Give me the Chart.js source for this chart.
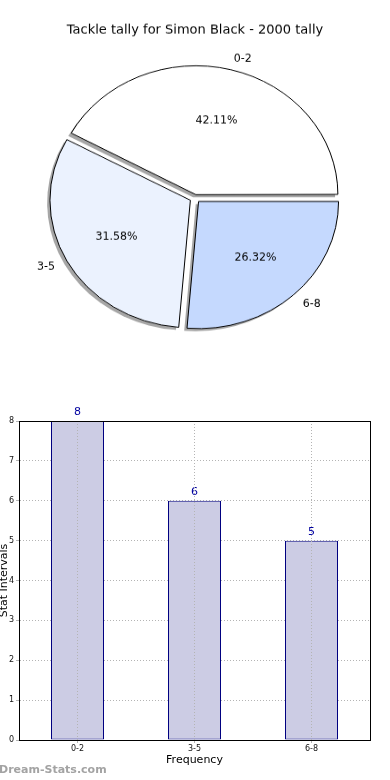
<!DOCTYPE html>
<html><head><meta charset="utf-8">
<script src="https://cdn.jsdelivr.net/npm/chart.js@4"></script>
<style>
html,body{margin:0;padding:0;background:#fff;width:390px;height:780px;overflow:hidden;}
#pieWrap{position:absolute;left:0;top:0;width:390px;height:436px;transform:scaleY(0.908);transform-origin:0 0;}
#barWrap{position:absolute;left:0;top:400px;width:390px;height:380px;}
canvas{display:block;}
</style></head><body>
<div id="pieWrap"><canvas id="pie" width="390" height="436"></canvas></div>
<div id="barWrap"><canvas id="bar" width="390" height="380"></canvas></div>
<script>
const chartTitle = 'Tackle tally for Simon Black - 2000 tally';
const categories = ['0-2', '3-5', '6-8'];
const counts = [8, 6, 5];
const pieColors = ['#ffffff', '#ebf2fe', '#c5d9fe'];
const xAxisTitle = 'Frequency';
const yAxisTitle = 'Stat Intervals';
const yMax = 8;
const watermark = 'Dream-Stats.com';

const K = 0.908; // vertical squash of the pie (matplotlib ellipse)
const FONT = "'DejaVu Sans', sans-serif";

// Pie drawn clockwise by Chart.js, matplotlib draws counter-clockwise: reverse order
const pieLabels = categories.slice().reverse();
const pieData = counts.slice().reverse();
const pieBg = pieColors.slice().reverse();
const pieOffsets = [21, 21, 15];
const total = counts.reduce((a, b) => a + b, 0);

function sceneText(ctx, txt, x, y, align, base) {
  ctx.save();
  ctx.translate(x, y);
  ctx.scale(1, 1 / K);
  ctx.textAlign = align;
  ctx.textBaseline = base;
  ctx.fillText(txt, 0, 0);
  ctx.restore();
}

function arcGeom(el) {
  const p = el.getProps(['x', 'y', 'startAngle', 'endAngle', 'outerRadius', 'circumference']);
  const mid = (p.startAngle + p.endAngle) / 2;
  const off = (el.options.offset || 0) / 4;
  const fix = 1 - Math.sin(Math.min(Math.PI, p.circumference || 0));
  return {cx: p.x + Math.cos(mid) * off, cy: p.y + Math.sin(mid) * off, r: p.outerRadius, rd: p.outerRadius + off * fix, mid, s: p.startAngle, e: p.endAngle};
}

const piePlugin = {
  id: 'piePlugin',
  beforeDatasetsDraw(chart) {
    const ctx = chart.ctx;
    const meta = chart.getDatasetMeta(0);
    ctx.save();
    ctx.fillStyle = 'rgba(77,77,77,0.5)';
    meta.data.forEach(el => {
      const g = arcGeom(el);
      ctx.beginPath();
      ctx.moveTo(g.cx - 2.8, g.cy + 2.9);
      ctx.arc(g.cx - 2.8, g.cy + 2.9, g.rd, g.s, g.e);
      ctx.closePath();
      ctx.fill();
    });
    ctx.restore();
  },
  afterDatasetsDraw(chart) {
    const ctx = chart.ctx;
    const meta = chart.getDatasetMeta(0);
    ctx.save();
    ctx.fillStyle = '#000';
    ctx.font = '11px ' + FONT;
    meta.data.forEach((el, i) => {
      const g = arcGeom(el);
      const c = Math.cos(g.mid), s = Math.sin(g.mid);
      const pct = (pieData[i] / total * 100).toFixed(2) + '%';
      sceneText(ctx, pct, g.cx + 0.6 * g.r * c, g.cy + 0.6 * g.r * s, 'center', 'middle');
      sceneText(ctx, pieLabels[i], g.cx + 1.1 * g.r * c, g.cy + 1.1 * g.r * s, c >= 0 ? 'left' : 'right', 'middle');
    });
    ctx.font = '13px ' + FONT;
    sceneText(ctx, chartTitle, 195, 30 / K, 'center', 'middle');
    ctx.restore();
  }
};

new Chart(document.getElementById('pie'), {
  type: 'pie',
  data: {
    labels: pieLabels,
    datasets: [{
      data: pieData,
      backgroundColor: pieBg,
      borderColor: '#000',
      borderWidth: 1,
      offset: pieOffsets,
      radius: 140
    }]
  },
  options: {
    responsive: false,
    animation: false,
    rotation: 90,
    radius: 140,
    layout: {padding: 0},
    plugins: {legend: {display: false}, tooltip: {enabled: false}, title: {display: false}}
  },
  plugins: [piePlugin]
});

const barPlugin = {
  id: 'barPlugin',
  afterDatasetsDraw(chart) {
    const ctx = chart.ctx;
    const meta = chart.getDatasetMeta(0);
    ctx.save();
    ctx.font = '11px ' + FONT;
    ctx.fillStyle = '#0000a0';
    ctx.textAlign = 'center';
    ctx.textBaseline = 'bottom';
    meta.data.forEach((el, i) => {
      ctx.fillText(String(counts[i]), el.x, el.y - 3);
    });
    ctx.restore();
  },
  afterDraw(chart) {
    const ctx = chart.ctx;
    const a = chart.chartArea;
    ctx.save();
    ctx.strokeStyle = '#000';
    ctx.lineWidth = 1;
    ctx.strokeRect(Math.round(a.left) + 0.5, Math.round(a.top) + 0.5, Math.round(a.right - a.left), Math.round(a.bottom - a.top));
    ctx.font = 'bold 11px ' + FONT;
    ctx.fillStyle = '#a3a3a3';
    ctx.textAlign = 'left';
    ctx.textBaseline = 'middle';
    ctx.fillText(watermark, -1, 370);
    ctx.restore();
  }
};

new Chart(document.getElementById('bar'), {
  type: 'bar',
  data: {
    labels: categories,
    datasets: [{
      data: counts,
      backgroundColor: 'rgb(204,204,228)',
      borderColor: '#000080',
      borderWidth: 1,
      borderSkipped: false,
      barPercentage: 53 / 117,
      categoryPercentage: 1
    }]
  },
  options: {
    responsive: false,
    animation: false,
    layout: {padding: {top: 21, right: 20, left: 0, bottom: 0}},
    plugins: {legend: {display: false}, tooltip: {enabled: false}},
    scales: {
      x: {
        offset: true,
        afterFit(s) { s.height = 40; },
        grid: {offset: false, z: 1, color: '#b4b4b4', tickLength: 3, tickColor: '#b4b4b4'},
        border: {display: true, color: '#000', width: 1, dash: [1, 2], z: 1},
        ticks: {font: {size: 8, family: FONT}, color: '#111', padding: 1, maxRotation: 0},
        title: {display: true, text: xAxisTitle, font: {size: 11, family: FONT}, color: '#000', padding: {top: 0, bottom: 13}}
      },
      y: {
        min: 0, max: yMax,
        afterFit(s) { s.width = 19; },
        grid: {color: '#b4b4b4', tickLength: 3, tickColor: '#b4b4b4'},
        border: {display: true, color: '#000', width: 1, dash: [1, 2]},
        ticks: {stepSize: 1, font: {size: 8, family: FONT}, color: '#111', padding: 2},
        title: {display: true, text: yAxisTitle, font: {size: 11, family: FONT}, color: '#000', padding: {top: -2, bottom: 0}}
      }
    }
  },
  plugins: [barPlugin]
});
</script>
</body></html>
